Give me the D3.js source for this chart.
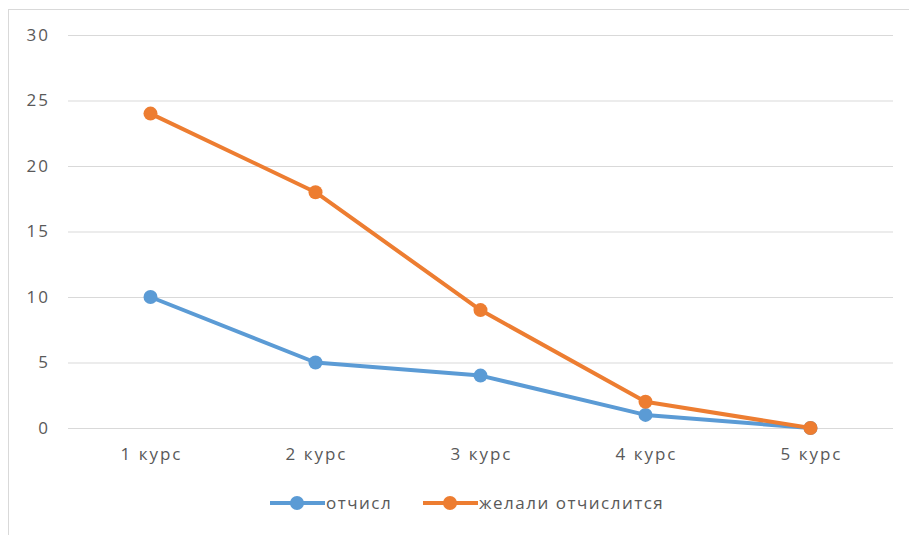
<!DOCTYPE html>
<html>
<head>
<meta charset="utf-8">
<script src="https://cdnjs.cloudflare.com/ajax/libs/d3/7.8.5/d3.min.js"></script>
<style>
  body { margin: 0; background: #fff; }
  svg text { font-family: "Open Sans", "Noto Sans", sans-serif; fill: #595959; }
</style>
</head>
<body>
<div id="chart"></div>
<script>
//data
const categories = ['1 курс', '2 курс', '3 курс', '4 курс', '5 курс'];
const expelled = [10, 5, 4, 1, 0];
const wantedOut = [24, 18, 9, 2, 0];
const yTicks = [0, 5, 10, 15, 20, 25, 30];
const seriesNames = ['отчисл', 'желали отчислится'];

const CONSTANTS = {
    WIDTH: 909,
    HEIGHT: 535,
    LEFT: 68,      //left edge of the plot
    RIGHT: 893,    //right edge of the plot
    TOP: 35,       //y of the top gridline
    BOTTOM: 428,   //y of the zero line
    BLUE: '#5b9bd5',
    ORANGE: '#ed7d31',
    GRID: '#d9d9d9',
    FONT: '17px'
};

let svg = d3.select('#chart')
    .append('svg')
    .attr('width', CONSTANTS.WIDTH)
    .attr('height', CONSTANTS.HEIGHT);

//chart area border
svg.append('rect')
    .attr('x', 8.5)
    .attr('y', 9.5)
    .attr('width', 920)
    .attr('height', 560)
    .attr('fill', 'none')
    .attr('stroke', CONSTANTS.GRID);

//scales
let x = d3.scaleBand().domain(categories).range([CONSTANTS.LEFT, CONSTANTS.RIGHT]);
let y = d3.scaleLinear().domain([0, 30]).range([CONSTANTS.BOTTOM, CONSTANTS.TOP]);
let cx = d => x(d) + x.bandwidth() / 2;

//gridlines + y labels
let yAxis = d3.axisLeft(y)
    .tickValues(yTicks)
    .tickSize(-(CONSTANTS.RIGHT - CONSTANTS.LEFT))
    .tickPadding(18);

let gy = svg.append('g')
    .attr('transform', 'translate(' + CONSTANTS.LEFT + ',0)')
    .call(yAxis);
gy.select('.domain').remove();
gy.selectAll('line').attr('stroke', CONSTANTS.GRID);
gy.selectAll('text')
    .style('font-size', CONSTANTS.FONT)
    .style('letter-spacing', '2px')
    .attr('fill', '#595959');

//x labels
let xAxis = d3.axisBottom(x).tickSize(0).tickPadding(20);
let gx = svg.append('g')
    .attr('transform', 'translate(0,' + CONSTANTS.BOTTOM + ')')
    .call(xAxis);
gx.select('.domain').remove();
gx.selectAll('text')
    .style('font-size', CONSTANTS.FONT)
    .style('letter-spacing', '2px')
    .attr('dx', '1px')
    .attr('fill', '#595959');

//lines
let series = [
    { name: seriesNames[0], values: expelled, color: CONSTANTS.BLUE },
    { name: seriesNames[1], values: wantedOut, color: CONSTANTS.ORANGE }
];

let line = d3.line()
    .x((d, i) => cx(categories[i]))
    .y(d => y(d));

series.forEach(s => {
    svg.append('path')
        .datum(s.values)
        .attr('d', line)
        .attr('fill', 'none')
        .attr('stroke', s.color)
        .attr('stroke-width', 4)
        .attr('stroke-linejoin', 'round');

    svg.selectAll(null)
        .data(s.values)
        .enter()
        .append('circle')
        .attr('cx', (d, i) => cx(categories[i]))
        .attr('cy', d => y(d))
        .attr('r', 7)
        .attr('fill', s.color);
});

//legend
let legendY = 503;
let legendX = [270, 423];
series.forEach((s, i) => {
    let g = svg.append('g').attr('transform', 'translate(' + legendX[i] + ',' + legendY + ')');
    g.append('line')
        .attr('x1', 0).attr('x2', 55)
        .attr('y1', 0).attr('y2', 0)
        .attr('stroke', s.color)
        .attr('stroke-width', 4);
    g.append('circle')
        .attr('cx', 27).attr('cy', 0)
        .attr('r', 7)
        .attr('fill', s.color);
    g.append('text')
        .text(s.name)
        .attr('x', 56)
        .attr('y', 6)
        .style('font-size', CONSTANTS.FONT)
        .style('letter-spacing', '1.5px');
});
</script>
</body>
</html>
